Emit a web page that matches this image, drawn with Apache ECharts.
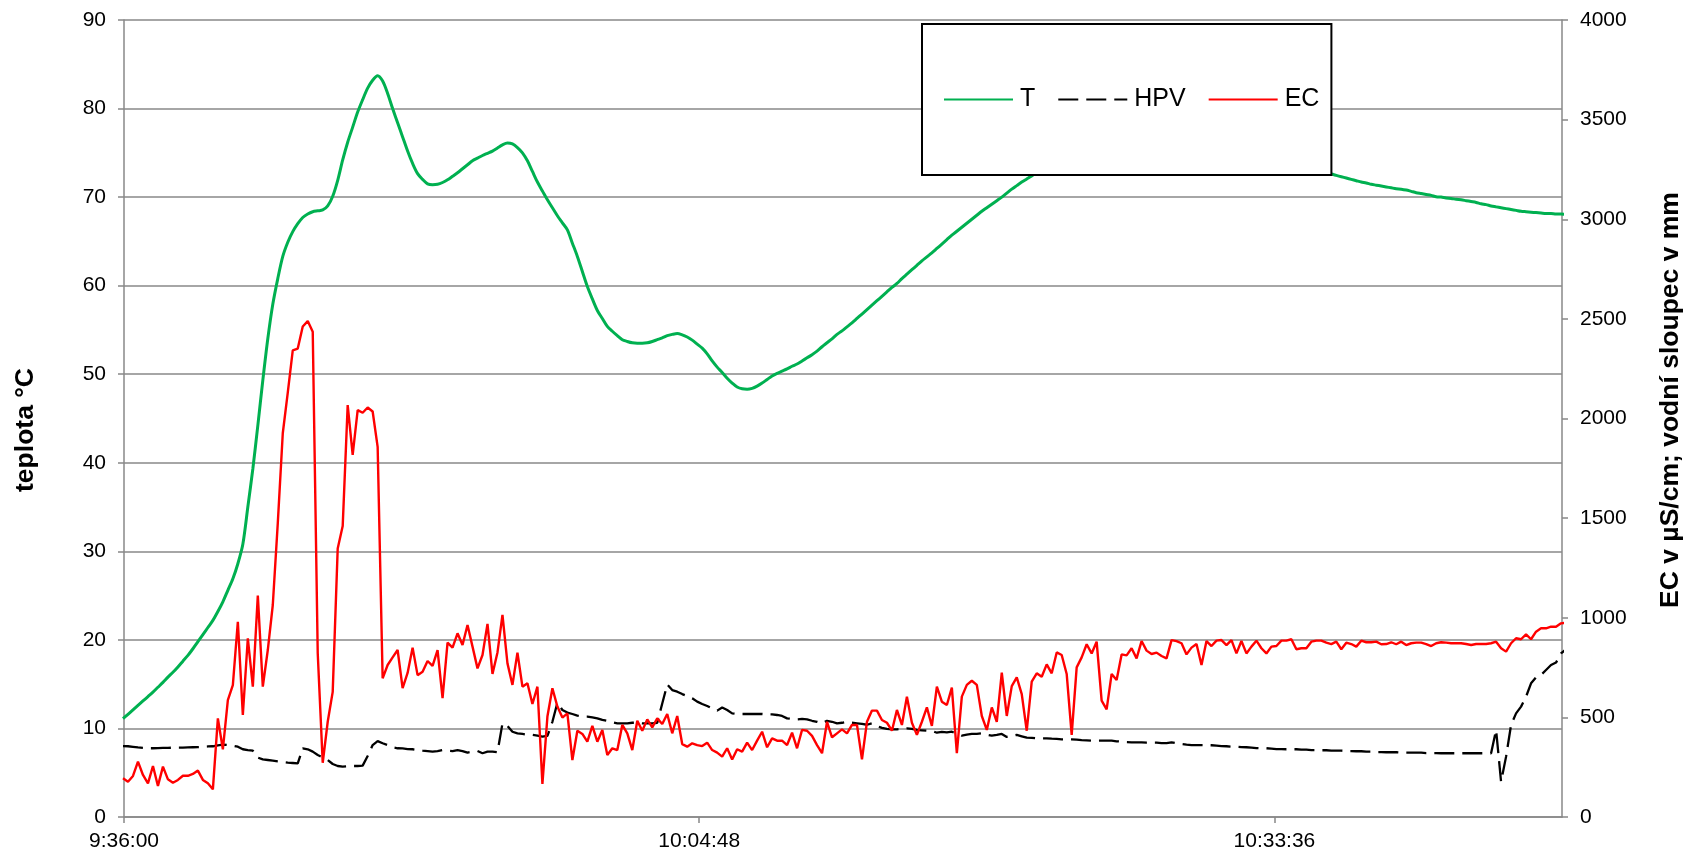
<!DOCTYPE html>
<html>
<head>
<meta charset="utf-8">
<title>teplota, EC, HPV</title>
<script src="https://cdn.jsdelivr.net/npm/echarts@6.0.0/dist/echarts.min.js"></script>
<style>
  html, body { margin: 0; padding: 0; background: #fff; }
  #chart { width: 1684px; height: 855px; }
</style>
</head>
<body>
<div id="chart"></div>
<script>
// Logger start (seconds since midnight) and sampling step
const SAMPLE_START = 9 * 3600 + 35 * 60 + 57;   // 9:35:57
const STEP = 15;                                // s

// Axis ranges / tick spacing
const X_MIN = 9 * 3600 + 36 * 60;    // 9:36:00
const X_MAX = 10 * 3600 + 48 * 60;   // 10:48:00
const X_STEP = 1728;                 // 0.02 day = 28:48
const T_AXIS = { min: 0, max: 90, step: 10 };
const EC_AXIS = { min: 0, max: 4000, step: 500 };

const SERIES_NAMES = ['T', 'HPV', 'EC'];
const TITLE_LEFT = 'teplota °C';
const TITLE_RIGHT = 'EC v µS/cm; vodní sloupec v mm';

// Temperature, °C (every 15 s)
const T_VALUES = [
  11.1, 11.6, 12.1, 12.6, 13.1, 13.6, 14.1, 14.65, 15.2, 15.8,
  16.35, 16.95, 17.6, 18.25, 19.0, 19.8, 20.6, 21.4, 22.2, 23.2,
  24.3, 25.6, 26.9, 28.6, 30.8, 35.0, 39.3, 44.2, 49.3, 54.0,
  57.9, 60.8, 63.3, 64.9, 66.1, 67.0, 67.7, 68.1, 68.35, 68.45,
  68.55, 69.0, 70.1, 71.9, 74.2, 76.2, 77.9, 79.6, 81.0, 82.3,
  83.2, 83.7, 83.1, 81.7, 80.0, 78.4, 76.8, 75.2, 73.8, 72.65,
  72.0, 71.5, 71.4, 71.45, 71.65, 71.95, 72.35, 72.75, 73.2, 73.65,
  74.1, 74.4, 74.7, 74.95, 75.2, 75.55, 75.9, 76.1, 76.0, 75.6,
  75.0, 74.1, 72.9, 71.7, 70.7, 69.7, 68.8, 67.9, 67.1, 66.3,
  64.8, 63.3, 61.6, 59.9, 58.5, 57.2, 56.3, 55.4, 54.85, 54.35,
  53.9, 53.7, 53.55, 53.5, 53.5, 53.55, 53.7, 53.9, 54.1, 54.35,
  54.5, 54.6, 54.45, 54.2, 53.85, 53.4, 52.95, 52.3, 51.5, 50.8,
  50.2, 49.55, 49.0, 48.55, 48.35, 48.3, 48.4, 48.65, 49.0, 49.4,
  49.8, 50.1, 50.35, 50.6, 50.9, 51.15, 51.5, 51.85, 52.2, 52.6,
  53.1, 53.55, 54.0, 54.5, 54.9, 55.35, 55.8, 56.3, 56.8, 57.3,
  57.8, 58.3, 58.8, 59.3, 59.8, 60.25, 60.8, 61.3, 61.8, 62.3,
  62.8, 63.25, 63.7, 64.2, 64.7, 65.2, 65.7, 66.15, 66.6, 67.05,
  67.5, 67.95, 68.4, 68.8, 69.2, 69.6, 70.0, 70.45, 70.9, 71.3,
  71.7, 72.05, 72.4, 72.7, 73.0, 73.2, 73.4, 73.55, 73.7, 73.8,
  73.9, 74.0, 74.1, 74.15, 74.2, 74.25, 74.3, 74.3, 74.3, 74.3,
  74.3, 74.3, 74.3, 74.25, 74.2, 74.2, 74.2, 74.15, 74.15, 74.1,
  74.1, 74.05, 74.05, 74.0, 74.0, 73.95, 73.95, 73.9, 73.85, 73.8,
  73.8, 73.75, 73.7, 73.65, 73.6, 73.55, 73.55, 73.5, 73.5, 73.45,
  73.4, 73.35, 73.3, 73.2, 73.15, 73.1, 73.05, 72.95, 72.9, 72.8,
  72.75, 72.7, 72.6, 72.45, 72.3, 72.15, 72.0, 71.85, 71.7, 71.6,
  71.45, 71.35, 71.25, 71.15, 71.05, 70.95, 70.9, 70.8, 70.65, 70.5,
  70.4, 70.3, 70.2, 70.05, 70.0, 69.9, 69.85, 69.75, 69.7, 69.6,
  69.5, 69.4, 69.25, 69.15, 69.0, 68.9, 68.8, 68.7, 68.6, 68.5,
  68.4, 68.35, 68.3, 68.25, 68.2, 68.15, 68.15, 68.1, 68.1, 68.05
];

// Water column, mm (every 15 s)
const HPV_VALUES = [
  356, 355, 352, 349, 347, 345, 345, 346, 347, 347,
  348, 348, 348, 349, 350, 351, 352, 354, 355, 360,
  363, 361, 358, 353, 340, 336, 333, 298, 289, 286,
  283, 279, 276, 273, 271, 269, 345, 340, 328, 311,
  299, 286, 266, 256, 253, 254, 256, 256, 258, 306,
  361, 381, 370, 361, 350, 345, 344, 341, 340, 336,
  333, 331, 328, 331, 336, 333, 331, 336, 331, 323,
  328, 331, 320, 328, 328, 325, 470, 457, 428, 420,
  417, 413, 412, 408, 403, 407, 478, 574, 537, 524,
  517, 509, 504, 504, 500, 495, 487, 482, 475, 470,
  470, 470, 473, 473, 470, 470, 470, 473, 570, 665,
  637, 629, 617, 607, 596, 579, 567, 557, 545, 534,
  550, 537, 520, 517, 517, 517, 517, 517, 517, 515,
  515, 512, 507, 495, 492, 490, 492, 490, 483, 478,
  470, 483, 478, 470, 473, 478, 473, 470, 467, 463,
  470, 457, 447, 442, 440, 440, 443, 445, 442, 437,
  435, 433, 432, 423, 427, 425, 428, 417, 408, 413,
  417, 417, 420, 413, 408, 412, 417, 402, 407, 412,
  405, 398, 397, 395, 395, 395, 393, 392, 390, 390,
  390, 388, 386, 385, 383, 383, 383, 383, 383, 380,
  378, 376, 375, 375, 375, 373, 373, 373, 371, 371,
  375, 370, 366, 363, 361, 361, 361, 361, 360, 358,
  356, 355, 353, 353, 351, 350, 348, 346, 345, 345,
  343, 341, 341, 340, 340, 340, 338, 338, 336, 336,
  335, 335, 333, 333, 333, 331, 331, 330, 330, 328,
  328, 326, 326, 325, 325, 325, 323, 323, 323, 323,
  323, 321, 321, 321, 320, 320, 320, 320, 320, 320,
  320, 320, 320, 320, 320, 437, 177, 303, 462, 520,
  554, 604, 671, 701, 713, 738, 763, 775, 821, 841
];

// Electrical conductivity, µS/cm (every 15 s)
const EC_VALUES = [
  194, 177, 206, 278, 211, 169, 256, 156, 253, 189,
  172, 186, 207, 207, 216, 233, 186, 169, 139, 495,
  340, 587, 662, 980, 512, 897, 654, 1111, 654, 838,
  1064, 1475, 1926, 2130, 2342, 2351, 2462, 2489, 2435, 822,
  272, 478, 628, 1347, 1460, 2067, 1817, 2042, 2029, 2055,
  2035, 1858, 696, 763, 801, 838, 647, 723, 850, 712,
  729, 783, 758, 838, 596, 875, 850, 922, 863, 964,
  855, 746, 813, 969, 718, 826, 1014, 771, 663, 825,
  654, 671, 567, 654, 166, 504, 646, 554, 499, 520,
  286, 433, 417, 378, 457, 378, 437, 311, 345, 336,
  462, 420, 336, 483, 433, 490, 450, 495, 467, 517,
  420, 507, 366, 353, 370, 361, 356, 373, 336, 323,
  303, 345, 289, 340, 328, 373, 336, 383, 428, 350,
  395, 383, 383, 361, 423, 345, 437, 433, 407, 361,
  320, 478, 400, 420, 440, 420, 462, 462, 289, 478,
  534, 534, 487, 473, 433, 537, 462, 604, 473, 412,
  478, 550, 457, 654, 579, 562, 649, 320, 604, 663,
  684, 663, 507, 437, 550, 478, 724, 507, 657, 701,
  617, 433, 679, 721, 704, 766, 721, 826, 813, 718,
  412, 751, 801, 867, 821, 880, 584, 540, 718, 688,
  816, 811, 847, 796, 883, 835, 818, 825, 808, 796,
  888, 883, 872, 816, 850, 868, 763, 883, 858, 885,
  888, 863, 888, 821, 883, 821, 855, 885, 847, 821,
  855, 858, 885, 885, 892, 842, 847, 847, 880, 885,
  885, 875, 868, 880, 842, 875, 868, 855, 885, 877,
  877, 880, 867, 868, 877, 867, 880, 863, 872, 875,
  875, 868, 858, 872, 877, 875, 872, 872, 872, 868,
  863, 868, 868, 868, 872, 880, 847, 830, 872, 897,
  892, 917, 892, 930, 947, 947, 955, 955, 972, 975
];

function pad2(n) { return (n < 10 ? '0' : '') + n; }
function clock(sec) {
  const h = Math.floor(sec / 3600);
  const m = Math.floor((sec % 3600) / 60);
  const s = Math.round(sec % 60);
  return h + ':' + pad2(m) + ':' + pad2(s);
}
function timed(values) {
  return values.map((v, i) => [SAMPLE_START + i * STEP, v]);
}

const FONT = '"Liberation Sans", Arial, sans-serif';
const GRID_GRAY = '#888888';

const chart = echarts.init(document.getElementById('chart'), null, { renderer: 'canvas' });

chart.setOption({
  animation: false,
  backgroundColor: '#ffffff',
  textStyle: { fontFamily: FONT },
  grid: { left: 124, right: 122, top: 20, bottom: 38, containLabel: false, outerBoundsMode: 'none' },
  legend: {
    data: SERIES_NAMES,
    left: 922,
    top: 24,
    orient: 'horizontal',
    itemWidth: 69,
    itemHeight: 14,
    itemGap: 22,
    padding: [63, 12, 63, 21],
    backgroundColor: '#ffffff',
    borderColor: '#000000',
    borderWidth: 2,
    borderRadius: 0,
    itemStyle: { opacity: 0 },
    textStyle: { fontSize: 25, fontFamily: FONT, color: '#000', padding: [0, 0, 0, 2] }
  },
  xAxis: {
    type: 'value',
    min: X_MIN,
    max: X_MAX,
    interval: X_STEP,
    axisLine: { show: true, onZero: false, lineStyle: { color: GRID_GRAY, width: 1.5 } },
    axisTick: { show: true, inside: false, length: 6, lineStyle: { color: GRID_GRAY, width: 1.5 } },
    splitLine: { show: false },
    axisLabel: {
      show: true, margin: 14, fontSize: 21, fontFamily: FONT, color: '#000',
      showMaxLabel: false,
      formatter: (v) => clock(v)
    }
  },
  yAxis: [
    {
      type: 'value',
      position: 'left',
      min: T_AXIS.min, max: T_AXIS.max, interval: T_AXIS.step,
      axisLine: { show: true, lineStyle: { color: GRID_GRAY, width: 1.5 } },
      axisTick: { show: true, inside: false, length: 6, lineStyle: { color: GRID_GRAY, width: 1.5 } },
      splitLine: { show: true, lineStyle: { color: GRID_GRAY, width: 1.5 } },
      axisLabel: { margin: 18, fontSize: 21, fontFamily: FONT, color: '#000', formatter: (v) => String(v) }
    },
    {
      type: 'value',
      position: 'right',
      min: EC_AXIS.min, max: EC_AXIS.max, interval: EC_AXIS.step,
      axisLine: { show: true, lineStyle: { color: GRID_GRAY, width: 1.5 } },
      axisTick: { show: true, inside: false, length: 6, lineStyle: { color: GRID_GRAY, width: 1.5 } },
      splitLine: { show: false },
      axisLabel: { margin: 18, fontSize: 21, fontFamily: FONT, color: '#000', formatter: (v) => String(v) }
    }
  ],
  graphic: [
    {
      type: 'text', x: 26, y: 430, rotation: Math.PI / 2,
      style: {
        text: TITLE_LEFT, fontSize: 26.5, fontWeight: 'bold', fontFamily: FONT,
        fill: '#000', align: 'center', verticalAlign: 'middle'
      }
    },
    {
      type: 'text', x: 1671, y: 400, rotation: Math.PI / 2,
      style: {
        text: TITLE_RIGHT, fontSize: 26.5, fontWeight: 'bold', fontFamily: FONT,
        fill: '#000', align: 'center', verticalAlign: 'middle'
      }
    }
  ],
  series: [
    {
      name: 'T',
      type: 'line',
      yAxisIndex: 0,
      data: timed(T_VALUES),
      smooth: 0.3,
      symbol: 'none',
      showSymbol: false,
      clip: true,
      lineStyle: { color: '#00B050', width: 3 },
      itemStyle: { color: '#00B050' }
    },
    {
      name: 'HPV',
      type: 'line',
      yAxisIndex: 1,
      data: timed(HPV_VALUES),
      symbol: 'none',
      showSymbol: false,
      clip: true,
      lineStyle: { color: '#000000', width: 2.3, type: [20, 8] },
      itemStyle: { color: '#000000' }
    },
    {
      name: 'EC',
      type: 'line',
      yAxisIndex: 1,
      data: timed(EC_VALUES),
      symbol: 'none',
      showSymbol: false,
      clip: true,
      lineStyle: { color: '#FF0000', width: 2.4 },
      itemStyle: { color: '#FF0000' }
    }
  ]
});
</script>
</body>
</html>
